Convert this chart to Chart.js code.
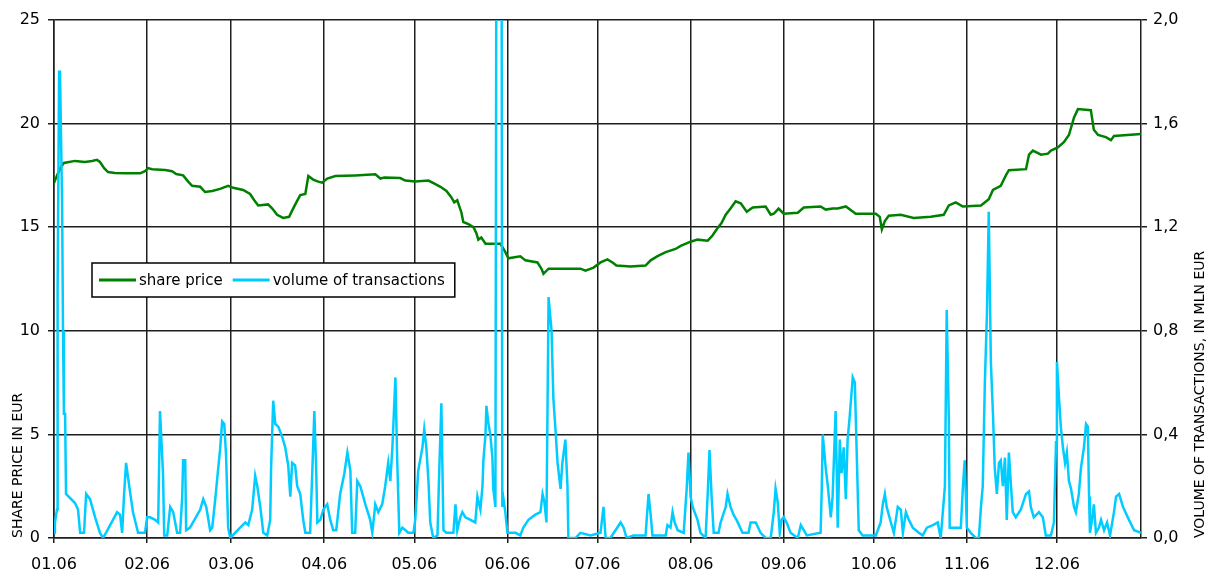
<!DOCTYPE html>
<html><head><meta charset="utf-8">
<script src="https://cdn.jsdelivr.net/npm/chart.js@4.4.0/dist/chart.umd.min.js"></script>
<style>html,body{margin:0;padding:0;background:#fff}#wrap{width:1206px;height:569px;position:relative}</style>
</head><body><div id="wrap"><canvas id="c" width="1206" height="569"></canvas></div>
<script>
// x values are days since 1 Jan 2006
const monthStartDays = [0,31,59,90,120,151,181,212,243,273,304,334];
const monthLabels = ['01.06','02.06','03.06','04.06','05.06','06.06','07.06','08.06','09.06','10.06','11.06','12.06'];

const priceDays = [0,1,2.3,3.3,7,10.3,12.7,14.3,15.3,16.7,18,20.3,23.7,28.7,30.3,31.3,32.7,37,39.3,40.7,43,44.7,46,48.7,50.3,52.7,55.3,58,59.7,63,65.3,66.7,68,71.3,72.7,74.3,76.3,78.3,79.3,80.7,82,83.7,84.7,86.3,88,89.3,91,93.7,100.3,107,108.7,110,115.3,117,120.3,124.7,126.7,128.7,130.7,132.3,133.3,134.3,135.7,136.3,138,139.7,140.7,141.3,142.3,143.7,148.7,150.3,151.3,155.3,157,161,162.3,163,164.7,175.3,177,179.7,182,184.3,186,187.3,192,197,198.7,201,203.7,207,208.7,212,214.3,217.7,219.3,220.7,222.3,223.7,225.3,227,228.7,230.7,232.7,237,238.7,239.7,241.3,243,247.7,249.7,255.3,257,259.3,261,263.7,267,273.7,275,275.7,276.7,278,282,286.3,292,296.3,298,300.3,302.7,308.7,311.3,312.7,315.3,317,318,323.7,324.7,326,328.7,331,332,334.3,336.3,338,339.7,341,345.3,346.3,347.7,350.3,352,353,362];
const priceValues = [17.13,17.5,17.9,18.1,18.2,18.15,18.2,18.25,18.15,17.85,17.66,17.62,17.6,17.6,17.7,17.85,17.8,17.76,17.7,17.57,17.5,17.2,17.0,16.95,16.7,16.75,16.85,17.0,16.9,16.8,16.6,16.3,16.05,16.1,15.9,15.6,15.45,15.5,15.8,16.2,16.55,16.6,17.47,17.3,17.2,17.15,17.35,17.47,17.5,17.55,17.35,17.4,17.37,17.25,17.2,17.25,17.1,16.95,16.75,16.45,16.2,16.3,15.7,15.25,15.15,15.0,14.7,14.4,14.5,14.2,14.2,13.8,13.5,13.6,13.4,13.3,13.0,12.75,13.0,13.0,12.9,13.05,13.3,13.45,13.3,13.15,13.1,13.15,13.4,13.6,13.8,13.95,14.1,14.3,14.4,14.35,14.6,14.9,15.2,15.6,15.9,16.25,16.15,15.75,15.95,16.0,15.6,15.65,15.9,15.65,15.7,15.95,16.0,15.85,15.9,15.9,16.0,15.65,15.65,15.5,14.9,15.3,15.55,15.6,15.45,15.5,15.6,16.05,16.2,16.0,16.05,16.35,16.8,17.0,17.5,17.75,17.8,18.5,18.7,18.5,18.55,18.7,18.85,19.1,19.45,20.3,20.7,20.65,19.7,19.45,19.35,19.2,19.4,19.5];

const volumeDays = [0,0.3,1,1.2,1.7,2,2.7,3,3.3,3.7,4,7,8,8.7,10,10.7,12,13.7,15.3,16.3,17.3,18.7,21,22,22.7,23.3,24,24.7,25.3,26.3,28,30.3,31,32,33.7,34.7,35.3,36.3,36.7,37.7,38.7,39.7,41,42,42.7,43,43.7,44,45.3,48.7,49.7,50.7,52,52.7,53.7,54.7,55.3,56,56.7,57.3,58,58.7,60.3,62,63.7,64.7,66,67,67.7,68.7,69.7,71,72,72.3,73,73.7,74.7,76,77,78,78.7,79.3,80.3,81,82,83,83.7,85.3,86,86.7,87.3,87.7,88.7,89.7,91,92,93,94,95.3,96.7,97.7,98.7,99.3,100.3,101,102,103.7,105.3,106,107,108,109.3,110.3,111.3,112,112.7,113.7,114.3,115,116,118,119.7,120.3,121.3,122.7,123.3,124,124.7,125.3,126.3,127.7,128.3,129,129.7,130.7,133,133.7,134.3,135.3,136,137,138.7,140.3,141,142,142.7,143,143.7,144,144.7,145.3,146,146.3,147,148.3,149.3,149.7,150.3,151,153.7,155.3,156.3,158,160.3,162,162.7,163.3,164,164.7,165.7,166,166.3,167,167.7,168.7,169.3,170.3,171,171.3,173.7,175.3,178.7,182,183,183.7,185.3,187,188.7,189.7,190.7,193,197,198,198.7,199.3,203.7,204.3,205.3,206,206.7,207.7,209.7,210.7,211.3,212,212.7,214.3,215.3,217,217.7,218.3,219,219.7,221.3,222,223.7,224.3,225.3,226.3,227.3,229.3,231.3,232,233.7,235.3,237,238.7,239.7,240.3,241,241.7,242.3,243,244,245.3,247.7,248.7,249.7,250.7,255.3,255.7,256,257,257.7,258.7,259.3,260.3,261,261.7,262.3,263,263.7,264.3,265,266,266.7,267.3,268,269.3,273.7,275.3,276,276.7,277.3,278.7,279.7,281,282,282.7,283.7,284.7,286,288,289.3,290.7,292.7,294.3,295.3,296.7,297.3,298,298.3,302,302.7,303.3,304,305.3,307,308,308.7,309.3,310,310.7,311.3,312,312.7,313.3,314,314.7,315.3,316,316.7,317.3,318,318.7,319.3,320.3,322,323.7,324.7,325.3,326.3,328,329.3,330.3,332,333,333.7,334,334.7,335.3,336,336.7,337.3,338,338.7,339.7,340.3,341.3,342,343,343.7,344.3,344.7,345,345.7,346.3,347,348,348.7,349.7,350.7,351.7,353,353.7,354.7,356,358,359.7,362];
const volumeValues = [0.02,0.06,0.11,0.96,1.80,1.80,1.29,0.8,0.48,0.48,0.17,0.135,0.11,0.02,0.02,0.17,0.15,0.08,0.02,0.0,0.02,0.05,0.1,0.09,0.02,0.16,0.29,0.23,0.18,0.1,0.02,0.02,0.08,0.08,0.07,0.06,0.49,0.25,0.01,0.01,0.12,0.1,0.02,0.02,0.16,0.3,0.3,0.03,0.04,0.11,0.15,0.12,0.03,0.04,0.15,0.27,0.34,0.45,0.44,0.32,0.04,0.0,0.02,0.04,0.06,0.05,0.11,0.24,0.2,0.12,0.02,0.01,0.07,0.27,0.53,0.44,0.43,0.39,0.35,0.28,0.16,0.29,0.28,0.2,0.17,0.07,0.02,0.02,0.25,0.49,0.27,0.06,0.07,0.11,0.13,0.07,0.03,0.03,0.17,0.25,0.33,0.26,0.02,0.02,0.22,0.2,0.13,0.07,0.02,0.13,0.1,0.13,0.2,0.29,0.22,0.35,0.62,0.3,0.02,0.04,0.02,0.02,0.07,0.26,0.35,0.42,0.35,0.22,0.06,0.0,0.01,0.26,0.52,0.03,0.02,0.02,0.13,0.03,0.08,0.1,0.08,0.07,0.06,0.16,0.11,0.2,0.3,0.4,0.51,0.44,0.4,0.31,0.19,0.12,9.0,0.12,0.15,0.1,0.02,0.02,0.01,0.04,0.07,0.09,0.1,0.17,0.14,0.06,0.93,0.8,0.67,0.54,0.42,0.29,0.19,0.29,0.38,0.2,0.0,0.0,0.02,0.01,0.02,0.12,0.0,0.0,0.03,0.06,0.04,0.0,0.01,0.01,0.17,0.09,0.01,0.01,0.05,0.04,0.1,0.06,0.03,0.02,0.19,0.33,0.16,0.12,0.07,0.02,0.0,0.17,0.34,0.16,0.02,0.02,0.06,0.12,0.17,0.12,0.09,0.07,0.02,0.02,0.06,0.06,0.02,0.0,0.0,0.1,0.19,0.14,0.02,0.07,0.08,0.06,0.02,0.0,0.05,0.03,0.01,0.02,0.2,0.4,0.27,0.2,0.08,0.16,0.49,0.04,0.38,0.25,0.35,0.15,0.38,0.47,0.62,0.6,0.34,0.03,0.01,0.01,0.06,0.13,0.17,0.12,0.06,0.02,0.12,0.11,0.02,0.1,0.07,0.04,0.02,0.01,0.04,0.05,0.06,0.0,0.2,0.88,0.46,0.04,0.04,0.2,0.3,0.04,0.02,0.0,0.0,0.12,0.2,0.6,0.87,1.26,0.68,0.48,0.27,0.17,0.29,0.3,0.2,0.31,0.07,0.33,0.2,0.1,0.08,0.11,0.17,0.18,0.12,0.08,0.1,0.08,0.01,0.01,0.06,0.37,0.68,0.54,0.43,0.35,0.29,0.33,0.22,0.19,0.12,0.1,0.17,0.27,0.35,0.44,0.43,0.16,0.02,0.07,0.13,0.02,0.04,0.07,0.03,0.06,0.01,0.1,0.16,0.17,0.12,0.07,0.03,0.02];

const seriesNames = ['share price', 'volume of transactions'];
const leftTitle = 'SHARE PRICE IN EUR';
const rightTitle = 'VOLUME OF TRANSACTIONS, IN MLN EUR';

const GREEN = '#008000', CYAN = '#00ccff', GRID = '#1e1e1e';
const FONT = 'DejaVu Sans';
Chart.defaults.font.family = FONT;
Chart.defaults.color = '#000';

const decor = {
  id: 'decor',
  afterDraw(chart) {
    const ctx = chart.ctx, ca = chart.chartArea;
    ctx.save();
    // axis titles
    ctx.fillStyle = '#000';
    ctx.font = '14px ' + FONT;
    ctx.textAlign = 'left'; ctx.textBaseline = 'middle';
    ctx.save(); ctx.translate(18, ca.bottom); ctx.rotate(-Math.PI/2); ctx.fillText(leftTitle, 0, 0); ctx.restore();
    ctx.save(); ctx.translate(1200, ca.bottom); ctx.rotate(-Math.PI/2); ctx.fillText(rightTitle, 0, 0); ctx.restore();
    // legend
    const bx = ca.left + 38, by = ca.top + 243, bh = 34;
    ctx.font = '15px ' + FONT;
    const ds = chart.data.datasets;
    const items = [ds[1], ds[0]];
    let w = 7;
    const parts = items.map(d => { const tw = ctx.measureText(d.label).width; const p = {d, x: w, tw}; w += 37 + 3 + tw + 10; return p; });
    const bw = w - 10 + 10;
    ctx.fillStyle = '#fff'; ctx.fillRect(bx, by, bw, bh);
    ctx.strokeStyle = '#000'; ctx.lineWidth = 1.5; ctx.strokeRect(bx, by, bw, bh);
    parts.forEach(p => {
      const ly = by + bh/2;
      ctx.strokeStyle = p.d.borderColor; ctx.lineWidth = 3;
      ctx.beginPath(); ctx.moveTo(bx + p.x, ly); ctx.lineTo(bx + p.x + 37, ly); ctx.stroke();
      ctx.fillStyle = '#000'; ctx.textBaseline = 'middle'; ctx.textAlign = 'left';
      ctx.fillText(p.d.label, bx + p.x + 40, ly + 1);
    });
    ctx.restore();
  }
};

new Chart(document.getElementById('c'), {
  type: 'line',
  data: {
    datasets: [
      { label: seriesNames[1], data: volumeDays.map((d,i)=>({x:d, y:volumeValues[i]})), yAxisID: 'y1',
        borderColor: CYAN, backgroundColor: CYAN, borderWidth: 2.5, pointRadius: 0, tension: 0, order: 0 },
      { label: seriesNames[0], data: priceDays.map((d,i)=>({x:d, y:priceValues[i]})), yAxisID: 'y',
        borderColor: GREEN, backgroundColor: GREEN, borderWidth: 2.5, pointRadius: 0, tension: 0, order: 1 }
    ]
  },
  options: {
    responsive: false, animation: false, devicePixelRatio: 1,
    layout: { padding: { left: 0, right: 0, top: 20, bottom: 0 } },
    plugins: { legend: { display: false }, tooltip: { enabled: false } },
    scales: {
      x: {
        type: 'linear', min: 0, max: 362,
        afterBuildTicks: (s) => { s.ticks = monthStartDays.map(v => ({ value: v })); },
        afterFit: (s) => { s.height = 31; },
        ticks: { autoSkip: false, maxRotation: 0, minRotation: 0, padding: 12, font: { size: 16 },
                 callback: (v, i) => monthLabels[i] },
        grid: { color: GRID, lineWidth: 1.5, tickLength: 5 },
        border: { color: GRID, width: 1.5 }
      },
      y: {
        position: 'left', min: 0, max: 25,
        afterFit: (s) => { s.width = 54; },
        ticks: { stepSize: 5, padding: 8, font: { size: 16 } },
        grid: { color: GRID, lineWidth: 1.5, tickLength: 6 },
        border: { color: GRID, width: 1.5 }
      },
      y1: {
        position: 'right', min: 0, max: 2,
        afterFit: (s) => { s.width = 65; },
        ticks: { stepSize: 0.4, padding: 6, font: { size: 16 }, callback: (v) => v.toFixed(1).replace('.', ',') },
        grid: { drawOnChartArea: false, color: GRID, lineWidth: 1.5, tickLength: 6 },
        border: { color: GRID, width: 1.5 }
      }
    }
  },
  plugins: [decor]
});
</script></body></html>
